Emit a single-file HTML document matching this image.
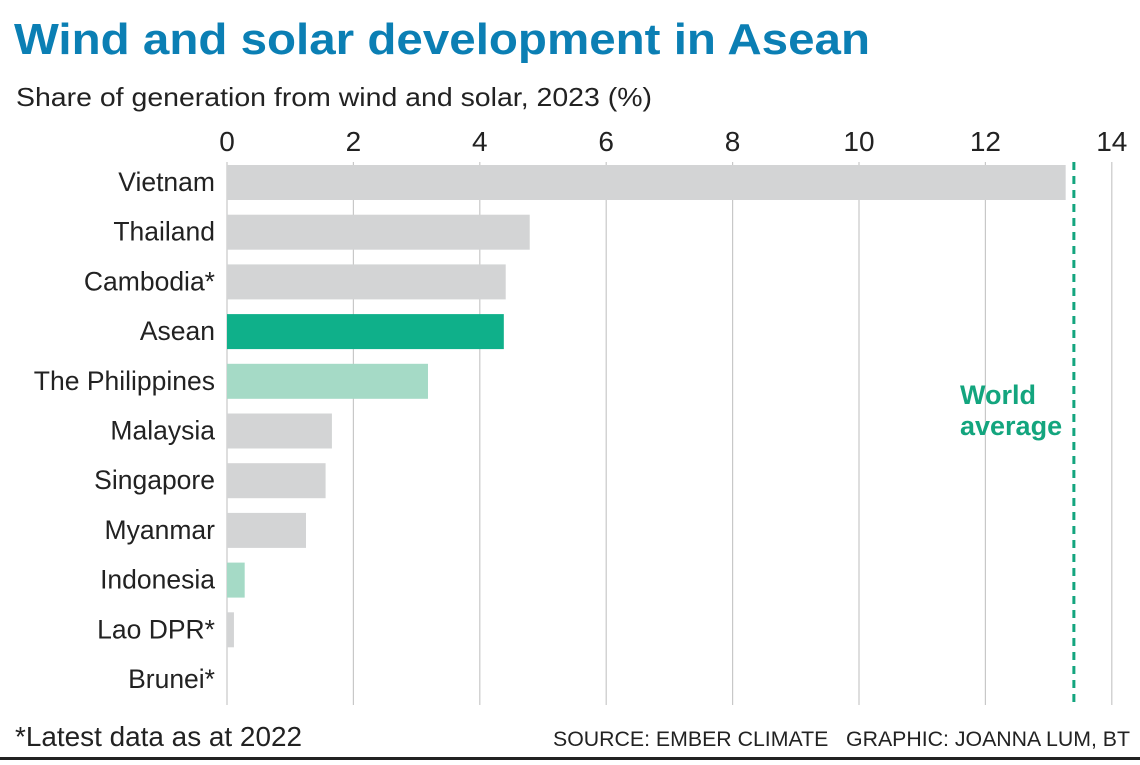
<!DOCTYPE html>
<html><head><meta charset="utf-8"><style>
body{margin:0;background:#fff;width:1140px;height:760px;overflow:hidden;font-family:"Liberation Sans",sans-serif}
</style></head><body>
<svg width="1140" height="760">
<text x="14" y="54" font-size="44" font-weight="bold" fill="#0b7fb4" textLength="856" lengthAdjust="spacingAndGlyphs">Wind and solar development in Asean</text>
<text x="16" y="106" font-size="26" fill="#222" textLength="636" lengthAdjust="spacingAndGlyphs">Share of generation from wind and solar, 2023 (%)</text>
<g id="grid"></g><g id="bars"></g>
<text x="15" y="746" font-size="28" fill="#222" textLength="287" lengthAdjust="spacingAndGlyphs">*Latest data as at 2022</text>
<text x="553" y="746" font-size="21" fill="#222" textLength="577" lengthAdjust="spacingAndGlyphs" xml:space="preserve">SOURCE: EMBER CLIMATE   GRAPHIC: JOANNA LUM, BT</text>
<rect x="0" y="757" width="1140" height="3" fill="#222"/>
</svg>
<script>
const categories=["Vietnam","Thailand","Cambodia*","Asean","The Philippines","Malaysia","Singapore","Myanmar","Indonesia","Lao DPR*","Brunei*"];
const values=[13.27,4.79,4.41,4.38,3.18,1.66,1.56,1.25,0.28,0.11,0];
const colors=["#d3d4d5","#d3d4d5","#d3d4d5","#0fb08a","#a5dac6","#d3d4d5","#d3d4d5","#d3d4d5","#a5dac6","#d3d4d5","#d3d4d5"];
const ticks=[0,2,4,6,8,10,12,14];
const worldAvg=13.4;
const NS="http://www.w3.org/2000/svg";
const x=v=>227+v*63.2;
const y=i=>182+i*49.7;
const g=document.getElementById('grid'),b=document.getElementById('bars');
function mk(tag,at,p){const e=document.createElementNS(NS,tag);for(const k in at)e.setAttribute(k,at[k]);p.appendChild(e);return e;}
ticks.forEach(t=>{
 const l=mk('line',{x1:x(t),x2:x(t),y1:162,y2:705,stroke:'#c8c8c8','stroke-width':1.2},g);
 
 
 const tx=mk('text',{x:x(t),y:151,'font-size':28,'text-anchor':'middle',fill:'#222'},g);tx.textContent=t;
 
 
});
categories.forEach((c,i)=>{
 const r=mk('rect',{x:x(0),y:y(i)-17,width:Math.max(0,x(values[i])-x(0)),height:35,fill:colors[i]},b);
 
 
 const t=mk('text',{x:215,y:y(i)+9,'font-size':26.5,'text-anchor':'end',fill:'#222'},b);t.textContent=c;
 
 
});
const wl=mk('line',{x1:x(worldAvg),x2:x(worldAvg),y1:162,y2:705,stroke:'#13a57e','stroke-width':3,'stroke-dasharray':'8 6'},b);


[["World",404],["average",435]].forEach(([s,yy])=>{const t=mk('text',{x:960,y:yy,'font-size':27,'font-weight':'bold',fill:'#13a57e'},b);t.textContent=s;
 
 });
</script>
</body></html>
